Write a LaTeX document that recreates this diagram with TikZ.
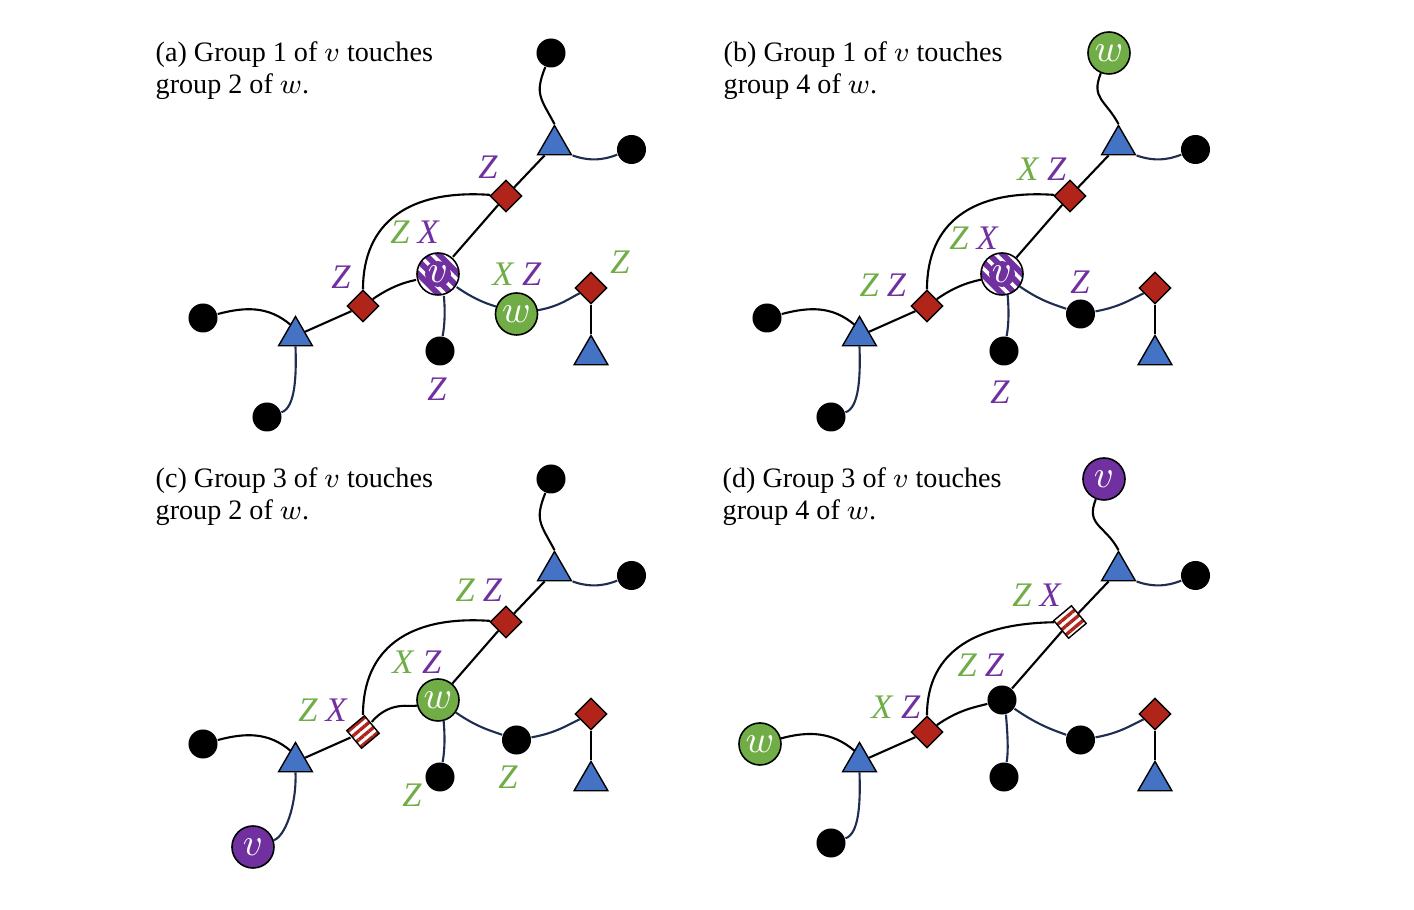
\documentclass[tikz,border=0pt]{standalone}
\usepackage{fontspec}
\setmainfont{Liberation Serif}
\usetikzlibrary{shapes.geometric,patterns.meta}
\definecolor{vpurple}{RGB}{112,48,160}
\definecolor{wgreen}{RGB}{112,173,71}
\definecolor{lgreen}{RGB}{112,173,71}
\definecolor{diared}{RGB}{176,36,26}
\definecolor{triblue}{RGB}{68,114,196}
\definecolor{navy}{RGB}{31,45,80}
\newcommand{\capfont}{\fontsize{8}{9}\selectfont}
\newcommand{\labfont}{\fontsize{9.8}{10}\selectfont}
\newcommand{\nodefont}{\fontsize{10.5}{11}\selectfont}
\newcommand{\grn}[1]{\textcolor{lgreen}{\textit{#1}}}
\newcommand{\prp}[1]{\textcolor{vpurple}{\textit{#1}}}
\newcommand{\gap}{\kern2.2pt}
\tikzset{
  dot/.style={circle, fill=black, minimum size=0.29cm, inner sep=0pt},
  vnode/.style={circle, draw=black, line width=0.45pt, fill=vpurple, text=white, minimum size=0.42cm, inner sep=0pt, font=\nodefont},
  wnode/.style={vnode, fill=wgreen},
  vhatch/.style={circle, draw=black, line width=0.45pt, minimum size=0.42cm, inner sep=0pt, preaction={fill=vpurple}, pattern={Lines[angle=-45,distance=2.7pt,line width=1pt]}, pattern color=white, label={[circle, fill=vpurple, inner sep=0pt, text=white, font=\nodefont]center:$v$}},
  tri/.style={regular polygon, regular polygon sides=3, draw=black, line width=0.4pt, fill=triblue, minimum size=0.39cm, inner sep=0pt},
  dia/.style={diamond, draw=black, line width=0.4pt, fill=diared, minimum size=0.32cm, inner sep=0pt},
  stripe/.style={rectangle, rotate=40, draw=black, line width=0.4pt, minimum size=0.23cm, inner sep=0pt, preaction={fill=white}, pattern={Lines[angle=40,distance=1.9pt,line width=0.95pt]}, pattern color=diared},
  blackline/.style={line width=0.6pt},
  navyline/.style={line width=0.6pt, navy},
  lab/.style={font=\labfont, inner sep=0pt},
  capnode/.style={anchor=north west, align=left, inner sep=0pt, font=\capfont},
  % roles that change from panel to panel
  topnode/.style={dot}, done/.style={dia}, centre/.style={dot}, dtwo/.style={dia},
  rnode/.style={dot}, leftnode/.style={dot}, blnode/.style={dot}
}
% #1 top, #2 centre, #3 right, #4 left, #5 bottom left
\newcommand{\panelgraph}[5]{
  \node[topnode] (top) at (551,53) {#1};
  \node[tri] (tritop) at (554.5,145) {};
  \node[dot] (dotr) at (631.5,149.5) {};
  \node[done] (d1) at (506,196) {};
  \node[centre] (c) at (438,274) {#2};
  \node[dtwo] (d2) at (363,306) {};
  \node[tri] (trileft) at (295.5,336) {};
  \node[leftnode] (left) at (203,318) {#4};
  \node[blnode] (bl) at (267,417) {#5};
  \node[dot] (below) at (440,351) {};
  \node[rnode] (r) at (516.5,314) {#3};
  \node[dia] (d3) at (591,288) {};
  \node[tri] (tribr) at (591,355) {};
  \draw[blackline] (top) to[out=-112,in=118,looseness=1.3] (tritop.corner 1);
  \draw[navyline] (tritop.corner 3) to[out=-20,in=200] (dotr);
  \draw[blackline] (tritop) -- (d1) -- (c);
  \draw[blackline] (d1) to[out=176,in=90,looseness=1.25] (d2);
  \draw[blackline] (d2) to[out=35,in=195] (c);
  \draw[blackline] (d2) -- (trileft);
  \draw[blackline] (left) to[out=15,in=140] (trileft.115);
  \draw[navyline] (trileft.south) to[out=-88,in=18] (bl);
  \draw[navyline] (c.-75) to[out=-85,in=80] (below);
  \draw[navyline] (c) to[out=-35,in=160] (r);
  \draw[navyline] (r) to[out=10,in=-155] (d3);
  \draw[blackline] (d3) -- (tribr);
}
\begin{document}
\begin{tikzpicture}[x=0.01cm,y=-0.01cm]
\useasboundingbox (0,0) rectangle (1414,910);

% (a)
\begin{scope}[name prefix=a-, centre/.style={vhatch}, rnode/.style={wnode}]
  \panelgraph{}{}{$w$}{}{}
  \node[capnode] (cap) at (155,41) {(a) Group 1 of $v$ touches\\group 2 of $w$.};
  \node[lab] (l1) at (488,167) {\prp{Z}};
  \node[lab] (l2) at (415,232) {\grn{Z}\gap\prp{X}};
  \node[lab] (l3) at (341,277) {\prp{Z}};
  \node[lab] (l4) at (517,274) {\grn{X}\gap\prp{Z}};
  \node[lab] (l5) at (620,262) {\grn{Z}};
  \node[lab] (l6) at (437,389) {\prp{Z}};
\end{scope}

% (b)
\begin{scope}[shift={(564,0)}, name prefix=b-, topnode/.style={wnode, xshift=-0.06cm}, centre/.style={vhatch}]
  \panelgraph{$w$}{}{}{}{}
  \node[capnode] (cap) at (159,41) {(b) Group 1 of $v$ touches\\group 4 of $w$.};
  \node[lab] (l1) at (478,169) {\grn{X}\gap\prp{Z}};
  \node[lab] (l2) at (410,238) {\grn{Z}\gap\prp{X}};
  \node[lab] (l3) at (319,285) {\grn{Z}\gap\prp{Z}};
  \node[lab] (l4) at (516,282) {\prp{Z}};
  \node[lab] (l5) at (436,392) {\prp{Z}};
\end{scope}

% (c)
\begin{scope}[shift={(0,426)}, name prefix=c-, centre/.style={wnode}, dtwo/.style={stripe}, blnode/.style={vnode, xshift=-0.14cm, yshift=-0.04cm}]
  \panelgraph{}{$w$}{}{}{$v$}
  \node[capnode] (cap) at (155,41) {(c) Group 3 of $v$ touches\\group 2 of $w$.};
  \node[lab] (l1) at (479,164) {\grn{Z}\gap\prp{Z}};
  \node[lab] (l2) at (417,236) {\grn{X}\gap\prp{Z}};
  \node[lab] (l3) at (323,284) {\grn{Z}\gap\prp{X}};
  \node[lab] (l4) at (508,351) {\grn{Z}};
  \node[lab] (l5) at (412,369) {\grn{Z}};
\end{scope}

% (d)
\begin{scope}[shift={(564,426)}, name prefix=d-, topnode/.style={vnode, xshift=-0.11cm}, done/.style={stripe}, leftnode/.style={wnode, xshift=-0.07cm}]
  \panelgraph{$v$}{}{}{$w$}{}
  \node[capnode] (cap) at (158,41) {(d) Group 3 of $v$ touches\\group 4 of $w$.};
  \node[lab] (l1) at (473,169) {\grn{Z}\gap\prp{X}};
  \node[lab] (l2) at (417,239) {\grn{Z}\gap\prp{Z}};
  \node[lab] (l3) at (332,281) {\grn{X}\gap\prp{Z}};
\end{scope}
\end{tikzpicture}
\end{document}
